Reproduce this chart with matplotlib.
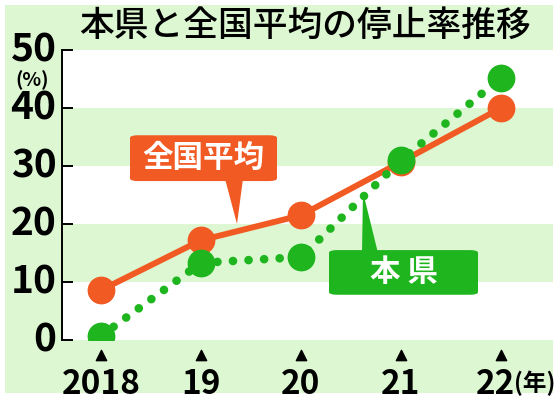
import matplotlib.pyplot as plt
from matplotlib.patches import Rectangle, FancyBboxPatch, Polygon

plt.rcParams['font.family'] = ['Noto Sans CJK JP', 'DejaVu Sans']

# データ
years = [0, 1, 2, 3, 4]
year_labels = ['2018', '19', '20', '21', '22']
zenkoku = [8.6, 17.2, 21.5, 30.7, 40.0]   # 全国平均
honken = [0.7, 13.3, 14.3, 31.0, 45.2]    # 本県
yticks = [0, 10, 20, 30, 40, 50]

ORANGE = '#f15a22'
GREEN = '#1fb51f'
BG = '#dcf7d2'

fig = plt.figure(figsize=(5.59, 4.0), dpi=100)
fig.patch.set_facecolor('white')
# 外枠の薄緑
fig.patches.append(Rectangle((5 / 559, 7 / 400), 548 / 559, 388 / 400,
                             transform=fig.transFigure, facecolor=BG,
                             edgecolor='none', zorder=-10))

ax = fig.add_axes([62 / 559, 60 / 400, 491 / 559, 290 / 400])
ax.set_facecolor('none')
ax.set_xlim(-0.39, 4.52)
ax.set_ylim(0, 50)

# 白い帯
for lo in (0, 20, 40):
    ax.axhspan(lo, lo + 10, color='white', zorder=0, lw=0)

# 線
ax.plot(years, zenkoku, color=ORANGE, lw=4.3, marker='o', ms=19,
        solid_capstyle='round', zorder=3)
ax.plot(years, honken, color=GREEN, lw=6.2, linestyle=(0, (0.01, 1.8)),
        dash_capstyle='round', zorder=4)
ax.plot(years, honken, color=GREEN, lw=0, marker='o', ms=19, zorder=5)

# 軸
for s in ('top', 'right', 'bottom'):
    ax.spines[s].set_visible(False)
ax.spines['left'].set_linewidth(1.4)
ax.set_yticks(yticks)
ax.set_yticklabels([str(v) for v in yticks], fontsize=28, fontweight='bold')
ax.tick_params(axis='y', direction='in', length=8, width=1.4, pad=4)
ax.set_xticks(years)
ax.set_xticklabels(year_labels[:-1] + [''], fontsize=24, fontweight='bold')
ax.tick_params(axis='x', length=0, pad=20)
for lab in ax.get_yticklabels():
    lab.set_verticalalignment('center')

# ▲ の目盛り
ax.scatter(years, [-2.6] * len(years), marker='^', s=55, color='black',
           clip_on=False, zorder=6)

# 22(年)
ax.annotate('22', xy=(4, 0), xycoords='data', xytext=(10, -20),
            textcoords='offset points', ha='right', va='top',
            fontsize=24, fontweight='bold', annotation_clip=False)
ax.annotate('(年)', xy=(4, 0), xycoords='data', xytext=(9, -22),
            textcoords='offset points', ha='left', va='top',
            fontsize=17, fontweight='bold', annotation_clip=False)

fig.text(32 / 559, 1 - 80 / 400, '(%)', ha='center', va='center',
         fontsize=14, fontweight='bold')

# タイトル
fig.text(305 / 559, 1 - 26 / 400, '本県と全国平均の停止率推移', ha='center',
         va='center', fontsize=25, fontweight='medium')

# 吹き出し
def balloon(x0, x1, y0, y1, tip, base, color, text):
    box = FancyBboxPatch((x0, y0), x1 - x0, y1 - y0,
                         boxstyle='round,pad=0,rounding_size=0.08',
                         mutation_aspect=5.8,
                         facecolor=color, edgecolor='none', zorder=7)
    ax.add_patch(box)
    ax.add_patch(Polygon([base[0], base[1], tip], closed=True,
                         facecolor=color, edgecolor='none', zorder=7,
                         clip_on=False))
    ax.text((x0 + x1) / 2, (y0 + y1) / 2, text, color='white', ha='center',
            va='center', fontsize=22, fontweight='bold', zorder=8)

balloon(0.29, 1.76, 27.4, 35.3, (1.36, 20.0),
        [(1.24, 27.8), (1.42, 27.8)], ORANGE, '全国平均')
balloon(2.28, 3.77, 7.8, 15.5, (2.62, 25.5),
        [(2.61, 15.0), (2.77, 15.0)], GREEN, '本 県')

fig.savefig('out.png', dpi=100)
